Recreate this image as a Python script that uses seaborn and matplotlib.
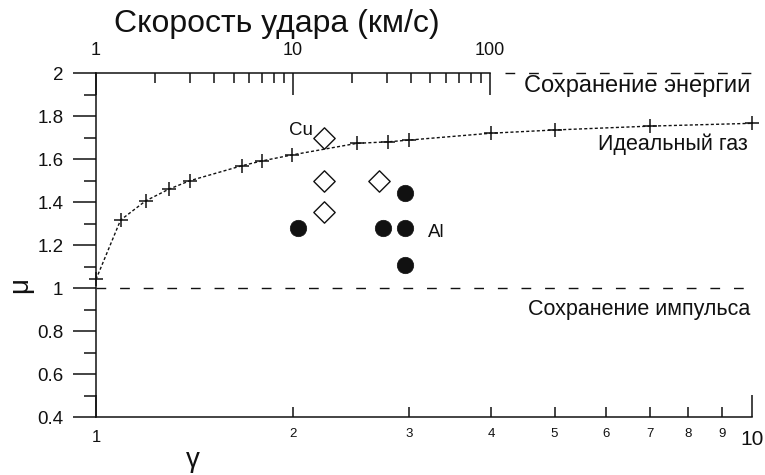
import numpy as np
import matplotlib
matplotlib.use("Agg")
import matplotlib.pyplot as plt
import seaborn as sns

# ideal gas curve (crosses joined by a dotted line)
gamma_gas = [1.0, 1.09, 1.19, 1.29, 1.39, 1.67, 1.79, 1.99, 2.5, 2.79, 3.0, 4.0, 5.0, 7.0, 10.0]
mu_gas = [1.04, 1.316, 1.405, 1.459, 1.499, 1.569, 1.591, 1.619, 1.673, 1.680, 1.688, 1.720, 1.735, 1.753, 1.766]

# copper (open diamonds)
gamma_cu = [2.23, 2.23, 2.23, 2.70]
mu_cu = [1.70, 1.50, 1.355, 1.50]

# aluminium (filled circles)
gamma_al = [2.03, 2.74, 2.96, 2.96, 2.96]
mu_al = [1.278, 1.278, 1.278, 1.443, 1.107]

gamma_major = [1, 10]
gamma_major_labels = ["1", "10"]
gamma_minor = [2, 3, 4, 5, 6, 7, 8, 9]
gamma_minor_labels = ["2", "3", "4", "5", "6", "7", "8", "9"]
speed_major = [1, 10, 100]
speed_major_labels = ["1", "10", "100"]
speed_minor = [2, 3, 4, 5, 6, 7, 8, 9, 20, 30, 40, 50, 60, 70, 80, 90]
mu_ticks = [0.4, 0.6, 0.8, 1.0, 1.2, 1.4, 1.6, 1.8, 2.0]
mu_labels = ["0.4", "0.6", "0.8", "1", "1.2", "1.4", "1.6", "1.8", "2"]
mu_minor = [0.5, 0.7, 0.9, 1.1, 1.3, 1.5, 1.7, 1.9]


# gamma ~ v**0.3 (v in km/s)
def speed_from_gamma(g):
    return np.power(np.abs(g), 1 / 0.3)


def gamma_from_speed(v):
    return np.power(np.abs(v), 0.3)


sns.set_style("ticks")
plt.rcParams["font.family"] = ["Liberation Sans", "DejaVu Sans"]
ink = "#111111"

fig = plt.figure(figsize=(7.65, 4.75), dpi=100)
ax = fig.add_axes([0.1255, 0.1221, 0.8575, 0.7242])
ax.set_xscale("log")
ax.set_xlim(1, 10)
ax.set_ylim(0.4, 2)

sns.lineplot(x=gamma_gas, y=mu_gas, ax=ax, color=ink, linewidth=1,
             linestyle=(0, (2.2, 1.6)), marker="+", markersize=10,
             markeredgewidth=1.1, markeredgecolor=ink, clip_on=False, zorder=3)
sns.scatterplot(x=gamma_cu, y=mu_cu, ax=ax, marker="D", s=118, color="white",
                edgecolor=ink, linewidth=1, zorder=4)
sns.scatterplot(x=gamma_al, y=mu_al, ax=ax, marker="o", s=140, color=ink,
                edgecolor=ink, linewidth=0.5, zorder=4)

# conservation limits
ax.axhline(1, color=ink, linewidth=1, dashes=(7, 10))
ax.hlines(2, 4.2, 10, color=ink, linewidth=1, linestyles=(0, (7, 10)), clip_on=False)

ax.text(9.95, 1.912, "Сохранение энергии", ha="right", va="baseline", fontsize=17, color=ink)
ax.text(9.85, 1.642, "Идеальный газ", ha="right", va="baseline", fontsize=15.5, color=ink)
ax.text(9.93, 0.874, "Сохранение импульса", ha="right", va="baseline", fontsize=15.5, color=ink)
ax.text(2.05, 1.712, "Cu", ha="center", va="baseline", fontsize=13.5, color=ink)
ax.text(3.30, 1.237, "Al", ha="center", va="baseline", fontsize=13.5, color=ink)

# bottom axis (gamma)
ax.set_xticks(gamma_major, gamma_major_labels)
ax.set_xticks(gamma_minor, gamma_minor_labels, minor=True)
ax.tick_params(axis="x", which="major", direction="in", length=16, width=1.1,
               pad=9, colors=ink, bottom=True, top=False)
ax.tick_params(axis="x", which="minor", direction="in", length=7, width=1.1,
               pad=8, labelsize=9.5, colors=ink, bottom=True, top=False)
xl = ax.get_xticklabels()
xl[0].set_fontsize(12)
xl[1].set_fontsize(15)

# left axis (mu)
ax.set_yticks(mu_ticks, mu_labels)
ax.set_yticks(mu_minor, minor=True)
ax.tick_params(axis="y", which="major", direction="out", length=16.5, width=1.1,
               pad=7, labelsize=13.5, colors=ink)
ax.tick_params(axis="y", which="minor", direction="out", length=8.5, width=1.1, colors=ink)

for side in ["left", "bottom", "top"]:
    ax.spines[side].set_linewidth(1.1)
    ax.spines[side].set_color(ink)
ax.spines["right"].set_visible(False)
ax.spines["top"].set_bounds(1, gamma_from_speed(100))

# top axis (impact speed)
sec = ax.secondary_xaxis("top", functions=(speed_from_gamma, gamma_from_speed))
sec.set_xticks(speed_major, speed_major_labels)
sec.set_xticks(speed_minor, [""] * len(speed_minor), minor=True)
sec.tick_params(which="major", direction="in", length=16, width=1.1, pad=10,
                labelsize=13, colors=ink)
sec.tick_params(which="minor", direction="in", length=7, width=1.1, colors=ink)
sec.spines["top"].set_visible(False)
sec.set_xlabel("Скорость удара (км/с)", fontsize=23, color=ink)
sec.xaxis.label.set_va("baseline")
sec.xaxis.set_label_coords(0.276, 1.118, transform=ax.transAxes)

ax.set_xlabel("γ", fontsize=20, color=ink)
ax.xaxis.set_label_coords(0.148, -0.087)
ax.set_ylabel("μ", fontsize=20, color=ink)
ax.yaxis.set_label_coords(-0.096, 0.384)

fig.savefig("out.png", dpi=100)
